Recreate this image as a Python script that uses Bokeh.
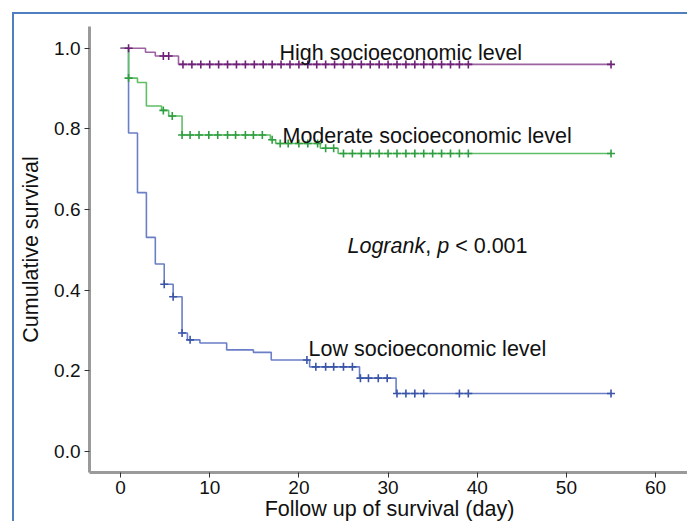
import numpy as np
from bokeh.plotting import figure
from bokeh.models import Range1d, FixedTicker, NumeralTickFormatter, Label
from bokeh.embed import file_html
from bokeh.resources import INLINE

# ---------------- data ----------------
high_times = [0, 2.8, 3.9, 6.5]
high_surv = [1.0, 0.990, 0.981, 0.960]
high_censor = [0.9, 4.8, 5.4, 7, 8, 9, 10, 11, 12, 13, 14, 15, 16, 17, 18, 19, 20,
               21, 22, 23, 24, 25, 26, 27, 28, 29, 30, 31, 32, 33, 34, 35, 36, 37,
               38, 39, 55]

mod_times = [0, 0.9, 1.9, 2.9, 4.6, 5.4, 6.9, 16.8, 17.4, 22.4, 24.4]
mod_surv = [1.0, 0.926, 0.915, 0.857, 0.846, 0.832, 0.785, 0.773, 0.764, 0.752, 0.739]
mod_censor = [0.9, 4.8, 5.8, 6.9, 7.8, 8.8, 9.9, 10.9, 12.0, 12.9, 14.0, 14.9, 15.9,
              17.0, 17.9, 18.8, 20.0, 21.0, 22.1, 23.0, 23.9, 25, 26, 27, 28, 29, 30,
              31, 32, 33, 34, 35, 36, 37, 38, 39, 55]

low_times = [0, 0.9, 1.9, 2.9, 3.9, 4.9, 5.9, 6.9, 7.5, 8.9, 11.9, 14.9, 16.9, 21.2,
             26.8, 30.9]
low_surv = [1.0, 0.790, 0.642, 0.531, 0.465, 0.415, 0.384, 0.294, 0.277, 0.269, 0.252,
            0.246, 0.227, 0.210, 0.182, 0.144]
low_censor = [4.9, 5.9, 6.9, 7.8, 20.9, 21.9, 23.0, 23.9, 25.0, 26.0, 26.9, 27.8, 28.9,
              29.9, 31.0, 32.0, 33.0, 34.0, 38.0, 39.0, 55.0]

x_ticks = [0, 10, 20, 30, 40, 50, 60]
y_ticks = [0.0, 0.2, 0.4, 0.6, 0.8, 1.0]

FONT = "Liberation Sans"

p = figure(width=675, height=509, x_range=Range1d(-3.48, 63.8),
           y_range=Range1d(-0.052, 1.054), output_backend="svg",
           toolbar_location=None, min_border_left=75, min_border_right=0,
           min_border_top=12, min_border_bottom=50)
p.styles = {"border-left": "2px solid #4f7fbf", "border-top": "2px solid #4f7fbf",
            "margin-left": "12px", "margin-top": "12px"}
p.outline_line_color = None
p.grid.visible = False
p.background_fill_color = "white"
p.border_fill_color = "white"


def km(times, surv, censor, line_color, mark_color):
    t_end = max(censor)
    xs = list(times) + [t_end]
    ys = list(surv) + [surv[-1]]
    p.step(xs, ys, mode="after", line_color=line_color, line_width=1.6)
    idx = np.searchsorted(np.array(times), np.array(censor), side="right") - 1
    cy = np.array(surv)[idx]
    p.scatter(censor, cy, marker="cross", size=8, line_color=mark_color,
              line_width=1.6)


km(low_times, low_surv, low_censor, "#6a7fc6", "#3a55a8")
km(mod_times, mod_surv, mod_censor, "#5fbf67", "#2f9e40")
km(high_times, high_surv, high_censor, "#9c62a2", "#6e2177")

for ax in (p.xaxis[0], p.yaxis[0]):
    ax.axis_line_color = "#9a9a9a"
    ax.axis_line_width = 3
    ax.major_tick_line_color = "#333333"
    ax.major_tick_out = 5
    ax.major_tick_in = 0
    ax.minor_tick_line_color = None
    ax.major_label_text_font = FONT
    ax.major_label_text_font_size = "19px"
    ax.major_label_text_color = "#111111"
    ax.axis_label_text_font = FONT
    ax.axis_label_text_font_size = "21.5px"
    ax.axis_label_text_font_style = "normal"
    ax.axis_label_text_color = "#111111"

p.xaxis.ticker = FixedTicker(ticks=x_ticks)
p.yaxis.ticker = FixedTicker(ticks=y_ticks)
p.yaxis.formatter = NumeralTickFormatter(format="0.0")
p.yaxis.axis_label = "Cumulative survival"
p.yaxis.major_label_standoff = 4
p.yaxis.axis_label_standoff = 8
p.xaxis.axis_label = "Follow up of survival (day)"
p.xaxis.major_label_standoff = 3
p.xaxis.axis_label_standoff = 0


def lab(x, y, text, style="normal", xo=0):
    p.add_layout(Label(x=x, y=y, text=text, x_offset=xo, text_font=FONT,
                       text_font_size="21.5px", text_font_style=style,
                       text_color="#111111", text_baseline="alphabetic",
                       text_align="left"))


lab(17.83, 0.988, "High socioeconomic level")
lab(18.16, 0.782, "Moderate socioeconomic level")
lab(21.08, 0.254, "Low socioeconomic level")
lab(25.45, 0.510, "Logrank", "italic", 0)
lab(25.45, 0.510, ",", "normal", 77.7)
lab(25.45, 0.510, "p", "italic", 89.7)
lab(25.45, 0.510, "< 0.001", "normal", 107.7)

open("out.html", "w").write(file_html(p, INLINE))
